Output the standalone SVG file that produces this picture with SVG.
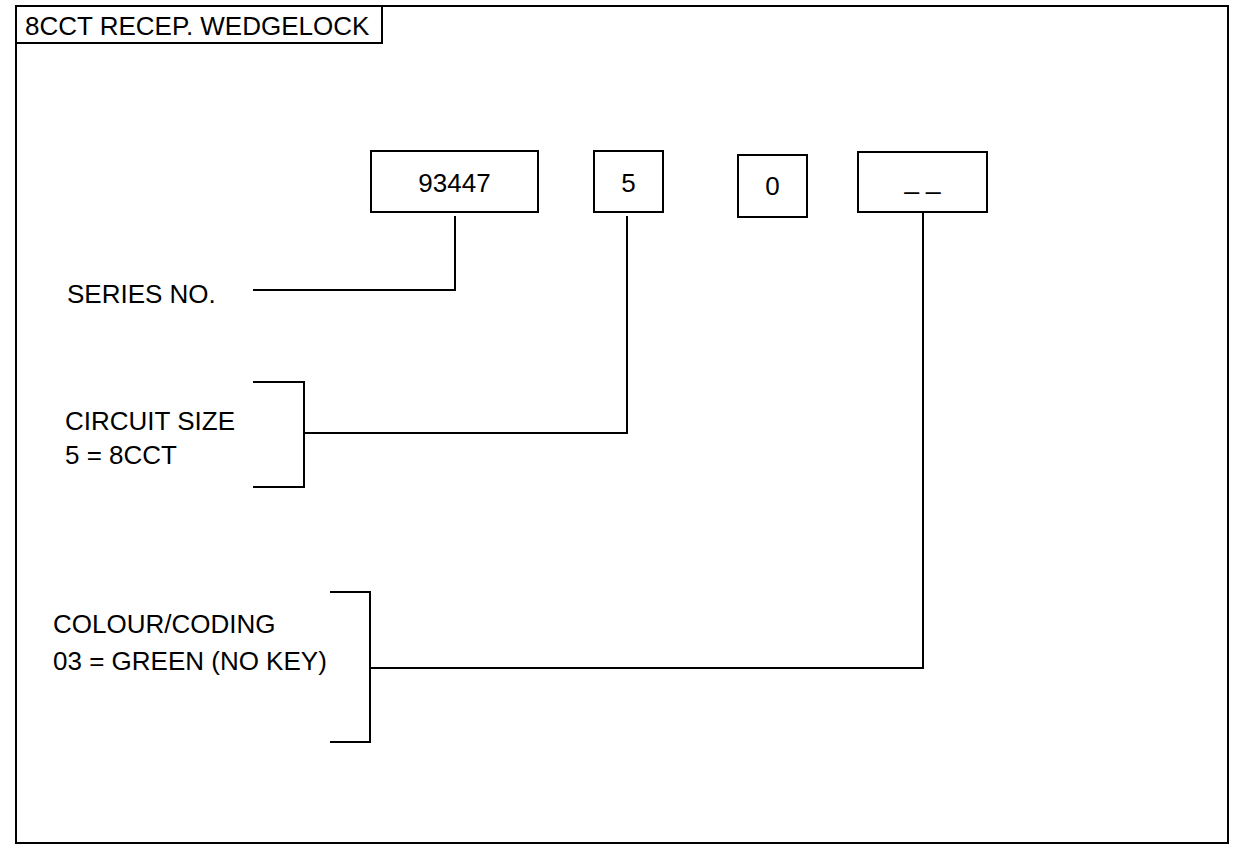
<svg xmlns="http://www.w3.org/2000/svg" width="1238" height="848" viewBox="0 0 1238 848">
<style>
.box{fill:#fff;stroke:#000;stroke-width:2}
.ln{fill:none;stroke:#000;stroke-width:2}
text{font-family:"Liberation Sans",Arial,sans-serif;font-size:26px;fill:#000}
.c{text-anchor:middle}
</style>
<rect width="1238" height="848" fill="#fff"/>
<g id="frame">
<rect class="box" x="16" y="6" width="1212" height="837"/>
<rect class="box" x="16" y="6" width="366" height="37"/>
<text x="25" y="35">8CCT RECEP. WEDGELOCK</text>
</g>
<g id="node-series-box"><rect class="box" x="371" y="151" width="167" height="61"/><text class="c" x="454.5" y="192">93447</text></g>
<g id="node-size-box"><rect class="box" x="594" y="151" width="69" height="61"/><text class="c" x="628.5" y="192">5</text></g>
<g id="node-zero-box"><rect class="box" x="738" y="155" width="69" height="62"/><text class="c" x="772.5" y="195">0</text></g>
<g id="node-colour-box"><rect class="box" x="858" y="152" width="129" height="60"/><text class="c" x="922.5" y="189">_ _</text></g>
<g id="node-series-label"><text x="67" y="303">SERIES NO.</text></g>
<g id="node-size-label"><text x="65" y="430">CIRCUIT SIZE</text><text x="65" y="464">5 = 8CCT</text></g>
<g id="node-colour-label"><text x="53" y="633">COLOUR/CODING</text><text x="53" y="670">03 = GREEN (NO KEY)</text></g>
<g id="connectors">
<polyline class="ln" points="455,216 455,290 253,290"/>
<polyline class="ln" points="627,216 627,433 304,433"/>
<polyline class="ln" points="253,382 304,382 304,487 253,487"/>
<polyline class="ln" points="923,212 923,668 370,668"/>
<polyline class="ln" points="330,592 370,592 370,742 330,742"/>
</g>
</svg>
